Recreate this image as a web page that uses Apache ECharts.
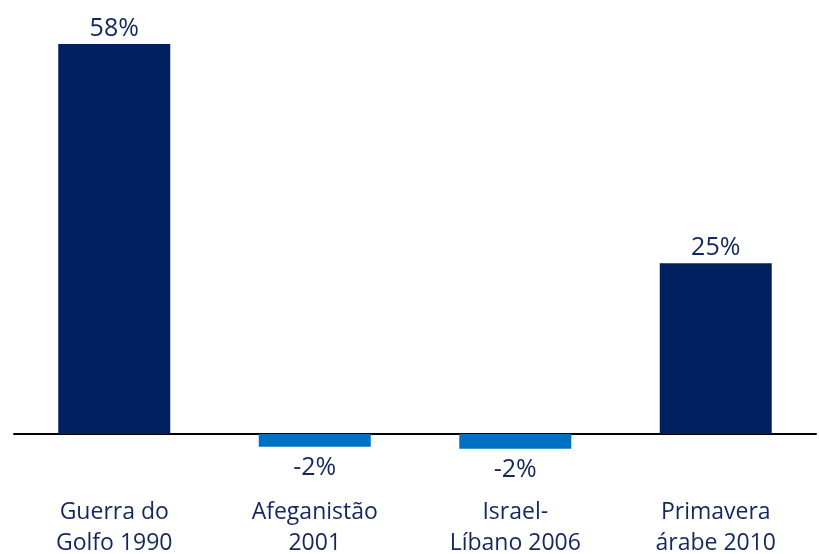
<!DOCTYPE html>
<html>
<head>
<meta charset="utf-8">
<script src="https://cdn.jsdelivr.net/npm/echarts@6/dist/echarts.min.js"></script>
<style>
  html, body { margin: 0; padding: 0; background: #fff; }
  #chart { width: 819px; height: 554px; }
</style>
</head>
<body>
<div id="chart"></div>
<script>
const categories = ['Guerra do\nGolfo 1990', 'Afeganistão\n2001', 'Israel-\nLíbano 2006', 'Primavera\nárabe 2010'];
const values = [58, -1.9, -2.2, 25.4];

const navy = '#002060';
const blue = '#0070c0';
const textColor = '#14285f';
const font = '"Open Sans", "Noto Sans", sans-serif';

const chart = echarts.init(document.getElementById('chart'));

const barData = values.map(function (v) {
  return {
    value: v,
    itemStyle: { color: v >= 0 ? navy : blue },
    label: { position: v >= 0 ? 'top' : 'bottom', distance: v >= 0 ? 3 : 9 }
  };
});

chart.setOption({
  animation: false,
  grid: {
    left: 14, right: 3, top: 44, bottom: 83.7,
    containLabel: false, outerBoundsMode: 'none'
  },
  xAxis: {
    type: 'category',
    data: categories,
    axisLine: { onZero: true, lineStyle: { color: '#000', width: 2 } },
    axisTick: { show: false },
    axisLabel: {
      margin: 27,
      color: textColor,
      fontFamily: font,
      fontSize: 23,
      lineHeight: 31,
      interval: 0
    }
  },
  yAxis: {
    type: 'value',
    min: -5.4,
    max: 58,
    show: false,
    splitLine: { show: false }
  },
  series: [{
    type: 'bar',
    data: barData,
    barWidth: 112,
    label: {
      show: true,
      color: textColor,
      fontFamily: font,
      fontSize: 25,
      formatter: function (p) { return Math.round(p.value) + '%'; }
    }
  }]
});
</script>
</body>
</html>
